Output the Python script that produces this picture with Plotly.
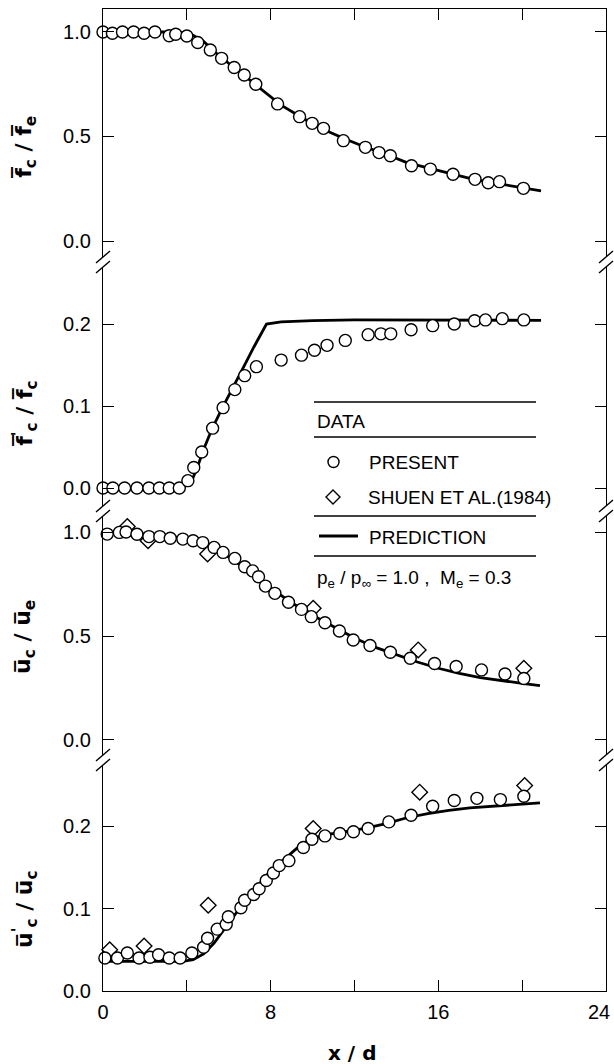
import plotly.graph_objects as go
from plotly.subplots import make_subplots

# ---------------- data ----------------
x_tickvals = [0, 4, 8, 12, 16, 20, 24]
x_ticktext = ['0', '', '8', '', '16', '', '']
x_last_label = '24'

# Panel 1: mean mixture fraction on axis
fc_x = [0.0, 0.45, 0.93, 1.46, 1.96, 2.48, 3.16, 3.47, 4.00, 4.52, 5.12, 5.66, 6.26, 6.74, 7.29,
        8.33, 9.38, 9.98, 10.52, 11.47, 12.52, 13.17, 13.71, 14.72, 15.62, 16.70, 17.75, 18.38, 18.92, 20.06]
fc_y = [1.0, 0.994, 1.0, 1.0, 0.994, 1.0, 0.982, 0.989, 0.981, 0.95, 0.914, 0.874, 0.83, 0.794, 0.75,
        0.656, 0.595, 0.563, 0.539, 0.48, 0.448, 0.423, 0.408, 0.36, 0.344, 0.319, 0.295, 0.279, 0.284, 0.252]
fc_pred_x = [0, 3.5, 4.2, 4.8, 5.5, 6.5, 7.5, 8.5, 9.5, 10.5, 11.5, 12.5, 13.5, 14.5, 15.5, 16.5, 17.5, 18.5, 19.5, 20.9]
fc_pred_y = [1.0, 1.0, 0.99, 0.955, 0.89, 0.81, 0.73, 0.65, 0.59, 0.535, 0.49, 0.45, 0.415, 0.375, 0.35, 0.325, 0.30, 0.28, 0.262, 0.24]

# Panel 2: mixture fraction fluctuation intensity
ff_x = [0.0, 0.47, 1.03, 1.62, 2.19, 2.69, 3.16, 3.64, 4.05, 4.33, 4.71, 5.23, 5.73, 6.29, 6.76, 7.32,
        8.50, 9.47, 10.09, 10.69, 11.56, 12.65, 13.26, 13.73, 14.70, 15.73, 16.76, 17.73, 18.25, 19.05, 20.08]
ff_y = [0.0, 0.0, 0.0, 0.0, 0.0, 0.0, 0.0, 0.0, 0.009, 0.025, 0.044, 0.073, 0.098, 0.120, 0.137, 0.148,
        0.156, 0.162, 0.168, 0.174, 0.180, 0.187, 0.188, 0.188, 0.193, 0.198, 0.200, 0.204, 0.205, 0.2065, 0.205]
ff_pred_x = [0, 3.8, 4.2, 4.5, 4.8, 5.2, 5.7, 6.2, 6.7, 7.2, 7.8, 8.5, 10, 12, 16, 20.9]
ff_pred_y = [0.0, 0.0, 0.007, 0.025, 0.047, 0.072, 0.098, 0.122, 0.147, 0.172, 0.2, 0.2025, 0.204, 0.205, 0.2045, 0.2045]

# Panel 3: mean velocity on axis
uc_x = [0.2, 0.78, 1.10, 1.62, 2.19, 2.71, 3.21, 3.81, 4.30, 4.76, 5.30, 5.73, 6.29, 6.76, 7.14, 7.42,
        7.75, 8.20, 8.85, 9.47, 9.94, 10.59, 11.28, 11.94, 12.74, 13.71, 14.66, 15.82, 16.85, 18.06, 19.18, 20.08]
uc_y = [0.99, 0.998, 1.0, 0.989, 0.978, 0.978, 0.97, 0.966, 0.958, 0.949, 0.926, 0.902, 0.873, 0.833, 0.813, 0.785,
        0.740, 0.705, 0.662, 0.628, 0.593, 0.564, 0.524, 0.481, 0.454, 0.422, 0.393, 0.368, 0.353, 0.337, 0.317, 0.296]
uc_shuen_x = [1.16, 2.15, 4.99, 10.03, 15.04, 20.08]
uc_shuen_y = [1.026, 0.958, 0.894, 0.633, 0.433, 0.345]
uc_pred_x = [0, 3, 4, 5, 6, 7, 8, 9, 10, 11, 12, 13, 14, 15, 16, 17, 18, 19, 20, 20.85]
uc_pred_y = [1.0, 0.985, 0.965, 0.93, 0.88, 0.81, 0.73, 0.66, 0.6, 0.545, 0.49, 0.445, 0.41, 0.375, 0.345, 0.32, 0.30, 0.285, 0.272, 0.261]

# Panel 4: velocity fluctuation intensity
uf_x = [0.09, 0.69, 1.16, 1.72, 2.24, 2.65, 3.16, 3.68, 4.24, 4.80, 4.99, 5.45, 5.88, 5.98, 6.58, 6.76,
        7.19, 7.45, 7.79, 8.13, 8.41, 8.87, 9.56, 9.97, 10.59, 11.30, 11.95, 12.65, 13.64, 14.70, 15.73,
        16.76, 17.84, 18.96, 20.08]
uf_y = [0.040, 0.040, 0.046, 0.040, 0.041, 0.044, 0.040, 0.040, 0.046, 0.053, 0.064, 0.075, 0.081, 0.090, 0.101, 0.110,
        0.117, 0.124, 0.134, 0.143, 0.152, 0.158, 0.174, 0.184, 0.188, 0.191, 0.193, 0.197, 0.205, 0.213, 0.224,
        0.231, 0.2335, 0.232, 0.236]
uf_shuen_x = [0.32, 1.96, 5.02, 10.03, 15.11, 20.12]
uf_shuen_y = [0.050, 0.0545, 0.104, 0.197, 0.241, 0.249]
uf_pred_x = [0, 3.8, 4.3, 4.8, 5.3, 5.8, 6.3, 6.8, 7.3, 7.8, 8.3, 8.8, 9.3, 9.8, 10.5, 11.5, 12.5, 13.5, 14.5,
             15.5, 16.5, 17.5, 18.5, 19.5, 20.85]
uf_pred_y = [0.036, 0.036, 0.038, 0.045, 0.058, 0.075, 0.093, 0.110, 0.125, 0.140, 0.152, 0.163, 0.174, 0.183, 0.189,
             0.193, 0.197, 0.203, 0.210, 0.215, 0.219, 0.222, 0.224, 0.226, 0.228]

y_ranges = [[-0.1005, 1.110], [-0.028, 0.2756], [-0.0962, 1.101], [0.0, 0.28]]
y_tickvals = [[0, 0.5, 1.0], [0, 0.1, 0.2], [0, 0.5, 1.0], [0, 0.1, 0.2]]
y_ticktext = [['0.0', '0.5', '1.0'], ['0.0', '0.1', '0.2'], ['0.0', '0.5', '1.0'], ['0.0', '0.1', '0.2']]

# ---------------- figure ----------------
W, H = 614, 1064
ML, MR, MT, MB = 103, 8, 9, 73
PW, PH = W - ML - MR, H - MT - MB

fig = make_subplots(rows=4, cols=1, shared_xaxes=True, vertical_spacing=0,
                    row_heights=[253, 249, 249, 231])

FONT = 'Liberation Sans'
circle_marker = dict(symbol='circle', size=12, color='white', line=dict(color='black', width=1.4))
diamond_marker = dict(symbol='diamond', size=12, color='white', line=dict(color='black', width=1.4))
pred_line = dict(color='black', width=2.8)

panels = [
    (fc_pred_x, fc_pred_y, fc_x, fc_y, None, None),
    (ff_pred_x, ff_pred_y, ff_x, ff_y, None, None),
    (uc_pred_x, uc_pred_y, uc_x, uc_y, uc_shuen_x, uc_shuen_y),
    (uf_pred_x, uf_pred_y, uf_x, uf_y, uf_shuen_x, uf_shuen_y),
]
for i, (px_, py_, cx, cy, sx, sy) in enumerate(panels, start=1):
    fig.add_trace(go.Scatter(x=px_, y=py_, mode='lines', line=pred_line, showlegend=False,
                             name='PREDICTION'), row=i, col=1)
    if sx is not None:
        fig.add_trace(go.Scatter(x=sx, y=sy, mode='markers', marker=diamond_marker, showlegend=False,
                                 name='SHUEN ET AL.(1984)', cliponaxis=False), row=i, col=1)
    fig.add_trace(go.Scatter(x=cx, y=cy, mode='markers', marker=circle_marker, showlegend=False,
                             name='PRESENT', cliponaxis=False), row=i, col=1)

for i in range(1, 5):
    fig.update_yaxes(row=i, col=1, range=y_ranges[i - 1], tickvals=y_tickvals[i - 1],
                     ticktext=y_ticktext[i - 1], ticks='inside', ticklen=11, tickwidth=1.3,
                     tickcolor='black', showline=True, linecolor='black', linewidth=1.3,
                     mirror='ticks', showgrid=False, zeroline=False,
                     tickfont=dict(family=FONT, size=20, color='black'), ticklabelstandoff=7)
    common_x = dict(range=[0, 24], showgrid=False, zeroline=False, tickvals=x_tickvals,
                    ticktext=x_ticktext)
    if i == 4:
        fig.update_xaxes(row=i, col=1, showline=True, linecolor='black', linewidth=1.3,
                         ticks='inside', ticklen=11, tickwidth=1.3, tickcolor='black',
                         showticklabels=True, tickfont=dict(family=FONT, size=20, color='black'),
                         ticklabelstandoff=3, **common_x)
    elif i == 1:
        fig.update_xaxes(row=i, col=1, showline=True, linecolor='black', linewidth=1.3,
                         ticks='inside', ticklen=11, tickwidth=1.3, tickcolor='black',
                         side='top', showticklabels=False, **common_x)
    else:
        fig.update_xaxes(row=i, col=1, showline=False, ticks='', showticklabels=False, **common_x)


def PX(px):
    return (px - ML) / PW


def PY(py):
    return (H - MB - py) / PH


shapes = []
# axis breaks
for bpy in [262, 511, 760]:
    for ax in [ML, W - MR]:
        shapes.append(dict(type='rect', xref='paper', yref='paper',
                           x0=PX(ax - 3), x1=PX(ax + 3), y0=PY(bpy + 5), y1=PY(bpy - 5),
                           fillcolor='white', line=dict(width=0)))
        for off in [-5, 5]:
            c = bpy + off
            shapes.append(dict(type='line', xref='paper', yref='paper',
                               x0=PX(ax - 7), y0=PY(c + 6), x1=PX(ax + 7), y1=PY(c - 6),
                               line=dict(color='black', width=1.4)))

# legend box
for ry in [402, 437, 516, 556]:
    shapes.append(dict(type='line', xref='paper', yref='paper', x0=PX(314), x1=PX(536),
                       y0=PY(ry), y1=PY(ry), line=dict(color='black', width=1.3)))
shapes.append(dict(type='circle', xref='paper', yref='paper', x0=PX(328), x1=PX(339),
                   y0=PY(467.5), y1=PY(456.5), line=dict(color='black', width=1.4), fillcolor='white'))
dx, dy = 7, 7
shapes.append(dict(type='path', xref='paper', yref='paper',
                   path=f'M {PX(333 - dx)} {PY(497)} L {PX(333)} {PY(497 - dy)} L {PX(333 + dx)} {PY(497)} '
                        f'L {PX(333)} {PY(497 + dy)} Z',
                   line=dict(color='black', width=1.4), fillcolor='white'))
shapes.append(dict(type='line', xref='paper', yref='paper', x0=PX(319), x1=PX(358),
                   y0=PY(536), y1=PY(536), line=dict(color='black', width=2.8)))

LF = dict(family=FONT, size=19, color='black')
annotations = []
for txt, lx, ly in [('DATA', 315, 421), ('PRESENT', 367, 462), ('SHUEN ET AL.(1984)', 366, 497),
                    ('PREDICTION', 367, 537),
                    ('p<sub>e</sub> / p<sub>∞</sub> = 1.0 ,  M<sub>e</sub> = 0.3', 315, 579)]:
    annotations.append(dict(text=txt, x=PX(lx), y=PY(ly), xref='paper', yref='paper',
                            xanchor='left', yanchor='middle', showarrow=False, font=LF))

# last x tick label, kept inside the page
annotations.append(dict(text=x_last_label, x=PX(612), y=PY(1012), xref='paper', yref='paper',
                        xanchor='right', yanchor='middle', showarrow=False,
                        font=dict(family=FONT, size=20, color='black')))

TF = dict(family='DejaVu Sans', size=22, color='black')
for txt, cy in [('<b>f\u0305<sub>c</sub> / f\u0305<sub>e</sub></b>', 147),
                ("<b>f\u0305<sup>'</sup><sub>c</sub> / f\u0305<sub>c</sub></b>", 413),
                ('<b>u\u0305<sub>c</sub> / u\u0305<sub>e</sub></b>', 637),
                ("<b>u\u0305<sup>'</sup><sub>c</sub> / u\u0305<sub>c</sub></b>", 909)]:
    annotations.append(dict(text=txt, x=PX(25), y=PY(cy), xref='paper', yref='paper',
                            xanchor='center', yanchor='middle', textangle=-90, showarrow=False, font=TF))
annotations.append(dict(text='<b>x / d</b>', x=PX(352), y=PY(1053), xref='paper', yref='paper',
                        xanchor='center', yanchor='middle', showarrow=False,
                        font=dict(family='DejaVu Sans', size=20, color='black')))

fig.update_layout(width=W, height=H, margin=dict(l=ML, r=MR, t=MT, b=MB, autoexpand=False),
                  paper_bgcolor='white', plot_bgcolor='white', showlegend=False,
                  shapes=shapes, annotations=annotations)

fig.write_html('out.html')
